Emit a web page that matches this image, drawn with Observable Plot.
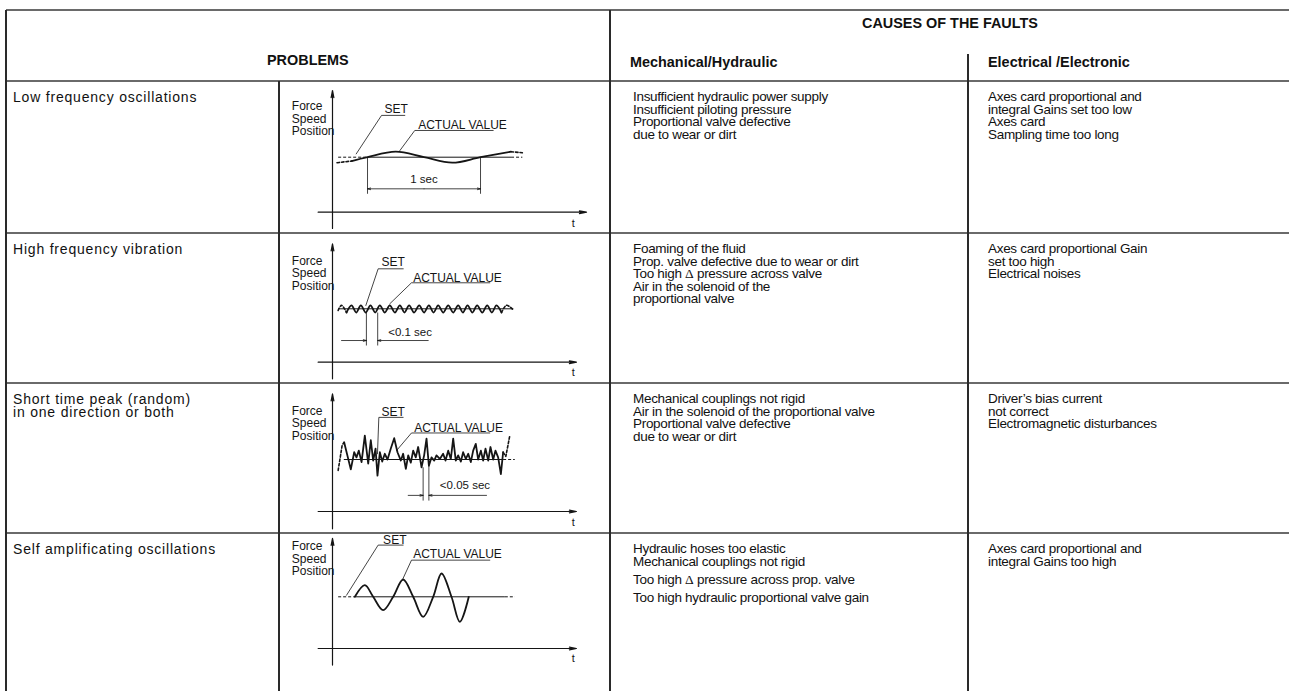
<!DOCTYPE html>
<html><head><meta charset="utf-8">
<script src="https://cdn.jsdelivr.net/npm/d3@7"></script>
<script src="https://cdn.jsdelivr.net/npm/@observablehq/plot@0.6"></script>
<style>
html,body{margin:0;padding:0;background:#fff;}
#page{position:relative;width:1289px;height:691px;overflow:hidden;font-family:"Liberation Sans",Arial,Helvetica,sans-serif;color:#111;}
.hl{position:absolute;height:2px;background:#6a6a6a;}
.vl{position:absolute;width:1.4px;background:#2a2a2a;}
.t{position:absolute;white-space:pre;transform-origin:0 0;}
.hdr{font-weight:bold;font-size:15.5px;line-height:16px;transform:scaleX(0.93);}
.cause{font-size:13.5px;line-height:12.5px;letter-spacing:-0.3px;}
.prob{font-size:14px;line-height:13px;letter-spacing:0.8px;}
.delta{font-family:"Liberation Serif","DejaVu Serif",serif;}
.diag{position:absolute;}
</style></head><body><div id="page"></div>
<script>
// ---------- table content ----------
const headers = {problems: "PROBLEMS", causes: "CAUSES OF THE FAULTS", mech: "Mechanical/Hydraulic", elec: "Electrical /Electronic"};
const problems = ["Low frequency oscillations", "High frequency vibration", "Short time peak (random)\nin one direction or both", "Self amplificating oscillations"];
const mechanical = [
  ["Insufficient hydraulic power supply", "Insufficient piloting pressure", "Proportional valve defective", "due to wear or dirt"],
  ["Foaming of the fluid", "Prop. valve defective due to wear or dirt", "Too high Δ pressure across valve", "Air in the solenoid of the", "proportional valve"],
  ["Mechanical couplings not rigid", "Air in the solenoid of the proportional valve", "Proportional valve defective", "due to wear or dirt"],
  ["Hydraulic hoses too elastic", "Mechanical couplings not rigid", "Too high Δ pressure across prop. valve", "Too high hydraulic proportional valve gain"]
];
const electrical = [
  ["Axes card proportional and", "integral Gains set too low", "Axes card", "Sampling time too long"],
  ["Axes card proportional Gain", "set too high", "Electrical noises"],
  ["Driver’s bias current", "not correct", "Electromagnetic disturbances"],
  ["Axes card proportional and", "integral Gains too high"]
];
// ---------- diagram labels ----------
const axisLabel = "Force\nSpeed\nPosition";
const timeLabel = "t";
const setLabel = "SET";
const actualLabel = "ACTUAL VALUE";
const periodLabels = ["1 sec", "<0.1 sec", "<0.05 sec", null];

// ---------- waveforms: [time (s), value (set value = 1)] ----------
const lowFreqWave = [[0.04,0.90],[0.17,0.93],[0.31,1.00],[0.56,1.10],[0.81,1.00],[1.06,0.90],[1.31,1.00],[1.58,1.10],[1.68,1.08]];
const highFreqWave = [[0.05,0.97],[0.080,1.065],[0.124,0.93],[0.168,1.065],[0.21,0.93],[0.251,1.065],[0.294,0.93],[0.336,1.065],[0.378,0.93],[0.419,1.065],[0.463,0.93],[0.507,1.065],[0.552,0.93],[0.596,1.065],[0.637,0.93],[0.678,1.065],[0.722,0.93],[0.767,1.065],[0.81,0.93],[0.853,1.065],[0.894,0.93],[0.935,1.065],[0.98,0.93],[1.024,1.065],[1.068,0.93],[1.112,1.065],[1.154,0.93],[1.195,1.065],[1.238,0.93],[1.280,1.065],[1.325,0.93],[1.369,1.065],[1.41,0.93],[1.451,1.065],[1.496,0.93],[1.540,1.065],[1.60,0.98]];
const peakWave = [[0.050,0.79],[0.086,1.28],[0.103,1.33],[0.162,0.81],[0.192,1.14],[0.212,1.04],[0.233,1.17],[0.257,0.95],[0.286,1.46],[0.316,0.92],[0.339,1.37],[0.360,0.98],[0.381,1.21],[0.398,0.69],[0.419,1.14],[0.440,0.96],[0.463,1.11],[0.487,1.00],[0.516,1.21],[0.546,1.41],[0.575,1.14],[0.605,0.98],[0.625,1.11],[0.649,0.82],[0.670,1.08],[0.693,0.94],[0.714,1.17],[0.737,1.04],[0.758,1.24],[0.788,0.85],[0.811,1.08],[0.832,1.40],[0.853,0.88],[0.876,1.04],[0.900,0.98],[0.920,1.08],[0.950,1.01],[0.979,1.11],[1.000,0.98],[1.024,1.17],[1.047,1.01],[1.068,1.40],[1.091,0.98],[1.112,1.08],[1.136,0.96],[1.156,1.14],[1.180,1.01],[1.201,1.11],[1.224,0.95],[1.245,1.17],[1.268,1.30],[1.289,1.00],[1.313,1.17],[1.333,0.98],[1.354,1.21],[1.378,0.98],[1.398,1.24],[1.422,1.00],[1.442,1.17],[1.466,1.04],[1.490,0.72],[1.510,1.14],[1.534,1.06],[1.569,1.46]];
const growingWave = [[0.198,1.0],[0.286,1.225],[0.360,1.0],[0.448,0.741],[0.537,1.0],[0.625,1.335],[0.714,1.0],[0.802,0.612],[0.891,1.0],[0.965,1.451],[1.053,1.0],[1.127,0.516],[1.206,1.0]];

// ---------- layout (positions/styles) ----------
const L = {left:6, top:10, right:1289, headBottom:81, rowTops:[81,233,383,533], bottom:691, cText:279, cCauses:610, cElec:968, elecTop:54};
const rowGap = [[0,0,0,0],[0,0,0,0,0],[0,0,0,0],[0,0,5.5,11]];

const diagrams = [
  {wave: lowFreqWave, solid:[1,7], dashed:[[0,1],[7,8]], curve:"catmull-rom", axisY:211.7, ky:55, yAxis:[-0.296,2.213], xAxis:[-0.127,2.248], tPos:[2.13,-0.21], fsp:[-0.36,1.70],
   setSolid:[[0.31,1.58]], setDashed:[[0.05,0.31],[1.58,1.68]],
   ext:[[0.31,1.0,0.335],[1.31,1.0,0.335]], dimV:0.425, dimArrows:[[0.81,0.31],[0.81,1.31]], dimText:[0.81,0.607,"middle"],
   setLead:[[0.21,1.06],[0.434,1.76],[0.64,1.76]], setText:[0.46,1.87], actLead:[[0.596,1.12],[0.728,1.486],[1.422,1.486]], actText:[0.758,1.589]},
  {wave: highFreqWave, solid:[2,34], dashed:[[0,2],[34,36]], curve:"catmull-rom", axisY:361.7, ky:53.4, yAxis:[-0.311,2.217], xAxis:[-0.127,2.159], tPos:[2.13,-0.187], fsp:[-0.36,1.667],
   setSolid:[[0.05,1.60]], setDashed:[],
   ext:[[0.30,0.93,0.313],[0.40,0.93,0.313]], dimV:0.406, dimArrows:[[0.08,0.30],[0.847,0.40]], dimText:[0.493,0.562,"start"],
   setLead:[[0.295,1.062],[0.404,1.749],[0.626,1.749]], setText:[0.434,1.873], actLead:[[0.507,1.094],[0.699,1.487],[1.392,1.487]], actText:[0.714,1.573]},
  {wave: peakWave, solid:[2,61], dashed:[[0,2],[61,63]], curve:"linear", axisY:511, ky:52, yAxis:[-0.333,2.263], xAxis:[-0.127,2.159], tPos:[2.13,-0.206], fsp:[-0.36,1.698],
   setSolid:[[0.10,1.51]], setDashed:[[1.51,1.613]],
   ext:[[0.802,0.85,0.21],[0.853,0.88,0.21]], dimV:0.31, dimArrows:[[0.67,0.802],[1.363,0.853]], dimText:[0.95,0.50,"start"],
   setLead:[[0.398,1.11],[0.410,1.81],[0.625,1.81]], setText:[0.434,1.92], actLead:[[0.566,1.17],[0.699,1.51],[1.392,1.51]], actText:[0.723,1.60]},
  {wave: growingWave, solid:[0,12], dashed:[], curve:"catmull-rom", axisY:648, ky:51.7, yAxis:[-0.32,2.13], xAxis:[-0.127,2.159], tPos:[2.13,-0.19], fsp:[-0.36,1.741],
   setSolid:[[0.198,1.525]], setDashed:[[0.05,0.198],[1.525,1.614]],
   ext:[], dimV:null, dimArrows:[], dimText:null,
   setLead:[[0.124,1.03],[0.404,2.0],[0.625,2.0]], setText:[0.448,2.095], actLead:[[0.617,1.32],[0.699,1.709],[1.392,1.709]], actText:[0.714,1.818]}
];

// ---------- build table ----------
const page = document.getElementById("page");
function el(cls, css, html) {
  const d = document.createElement("div");
  d.className = cls; Object.assign(d.style, css);
  if (html != null) d.innerHTML = html;
  page.appendChild(d); return d;
}
const esc = s => s.replace(/&/g,"&amp;").replace(/</g,"&lt;").replace(/Δ/g,'<span class="delta">Δ</span>');
function hl(y, x1, x2) { el("hl", {left:x1+"px", top:(y-1)+"px", width:(x2-x1)+"px"}); }
function vl(x, y1, y2) { el("vl", {left:(x-0.7)+"px", top:y1+"px", height:(y2-y1)+"px"}); }

hl(L.top, L.left, L.right);
hl(L.headBottom, L.left, L.right);
L.rowTops.slice(1).forEach(y => hl(y, L.left, L.right));
vl(L.left, L.top, L.bottom);
vl(L.cText, L.headBottom, L.bottom);
vl(L.cCauses, L.top, L.bottom);
vl(L.cElec, L.elecTop, L.bottom);

function centred(text, x1, x2, top) {
  const d = el("t hdr", {left:x1+"px", top:top+"px"}, esc(text));
  const w = d.getBoundingClientRect().width;
  d.style.left = ((x1 + x2) / 2 - w / 2) + "px";
}
centred(headers.problems, L.left, L.cCauses, 52);
centred(headers.causes, L.cCauses, L.right, 15);
el("t hdr", {left:(L.cCauses+20)+"px", top:"54px"}, esc(headers.mech));
el("t hdr", {left:(L.cElec+20)+"px", top:"54px"}, esc(headers.elec));

problems.forEach((p, i) => {
  el("t prob", {left:(L.left+7)+"px", top:(L.rowTops[i]+9.5)+"px"}, esc(p));
});
mechanical.forEach((lines, i) => {
  lines.forEach((s, j) => el("t cause", {left:(L.cCauses+23)+"px", top:(L.rowTops[i]+10+j*12.6+rowGap[i][j])+"px"}, esc(s)));
});
electrical.forEach((lines, i) => {
  lines.forEach((s, j) => el("t cause", {left:(L.cElec+20)+"px", top:(L.rowTops[i]+10+j*12.6)+"px"}, esc(s)));
});

// ---------- diagrams ----------
const F = "'Liberation Sans Narrow','Liberation Sans',Arial,sans-serif";
const INK = "#151515";
diagrams.forEach((cfg, i) => {
  const top = L.rowTops[i];
  const bottom = i < 3 ? L.rowTops[i+1] : L.bottom;
  const h = bottom - top;
  const W = 330;
  const X = d => d[0], Y = d => d[1];
  const vDomain = [(cfg.axisY - bottom) / cfg.ky, (cfg.axisY - top) / cfg.ky];
  const marks = [];
  marks.push(Plot.link(cfg.setSolid, {x1: d=>d[0], x2: d=>d[1], y1: ()=>1, y2: ()=>1, stroke: INK, strokeWidth: 1}));
  marks.push(Plot.link(cfg.setDashed, {x1: d=>d[0], x2: d=>d[1], y1: ()=>1, y2: ()=>1, stroke: INK, strokeWidth: 1, strokeDasharray: "3,2"}));
  marks.push(Plot.line(cfg.wave.slice(cfg.solid[0], cfg.solid[1]+1), {x: X, y: Y, curve: cfg.curve, stroke: INK, strokeWidth: 1.8}));
  cfg.dashed.forEach(([a,b]) => marks.push(Plot.line(cfg.wave.slice(a, b+1), {x: X, y: Y, curve: cfg.curve, stroke: INK, strokeWidth: 1.6, strokeDasharray: "2.5,2"})));
  marks.push(Plot.arrow([{x1:0, y1:cfg.yAxis[0], x2:0, y2:cfg.yAxis[1]}, {x1:cfg.xAxis[0], y1:0, x2:cfg.xAxis[1], y2:0}],
    {x1:"x1", y1:"y1", x2:"x2", y2:"y2", stroke: INK, strokeWidth: 1.2, headLength: 9, headAngle: 22}));
  marks.push(Plot.text([cfg.tPos], {x: X, y: Y, text: () => timeLabel, fontSize: 11, fontFamily: F, fill: INK}));
  marks.push(Plot.text([cfg.fsp], {x: X, y: Y, text: () => axisLabel, textAnchor: "start", lineAnchor: "middle", lineHeight: 1.05, fontSize: 12, fontFamily: F, fill: INK}));
  if (cfg.dimV != null) {
    marks.push(Plot.link(cfg.ext, {x1: d=>d[0], x2: d=>d[0], y1: d=>d[1], y2: d=>d[2], stroke: INK, strokeWidth: 0.8}));
    marks.push(Plot.arrow(cfg.dimArrows, {x1: d=>d[0], x2: d=>d[1], y1: ()=>cfg.dimV, y2: ()=>cfg.dimV, stroke: INK, strokeWidth: 0.8, headLength: 6, headAngle: 30}));
    marks.push(Plot.text([cfg.dimText], {x: X, y: Y, text: () => periodLabels[i], textAnchor: cfg.dimText[2], fontSize: 11.5, fontFamily: F, fill: INK}));
  }
  marks.push(Plot.line(cfg.setLead, {x: X, y: Y, stroke: INK, strokeWidth: 0.8}));
  marks.push(Plot.line(cfg.actLead, {x: X, y: Y, stroke: INK, strokeWidth: 0.8}));
  marks.push(Plot.text([cfg.setText], {x: X, y: Y, text: () => setLabel, textAnchor: "start", fontSize: 12, fontFamily: F, fill: INK}));
  marks.push(Plot.text([cfg.actText], {x: X, y: Y, text: () => actualLabel, textAnchor: "start", fontSize: 12, fontFamily: F, fill: INK}));

  const svg = Plot.plot({
    width: W, height: h, margin: 0,
    x: {domain: [-52/113, (W-52)/113], axis: null},
    y: {domain: vDomain, axis: null},
    style: {background: "transparent", overflow: "visible"},
    marks
  });
  const holder = el("diag", {left:(L.cText+0.5)+"px", top: top+"px", width: W+"px", height: h+"px"});
  holder.appendChild(svg);
});
</script></body></html>
